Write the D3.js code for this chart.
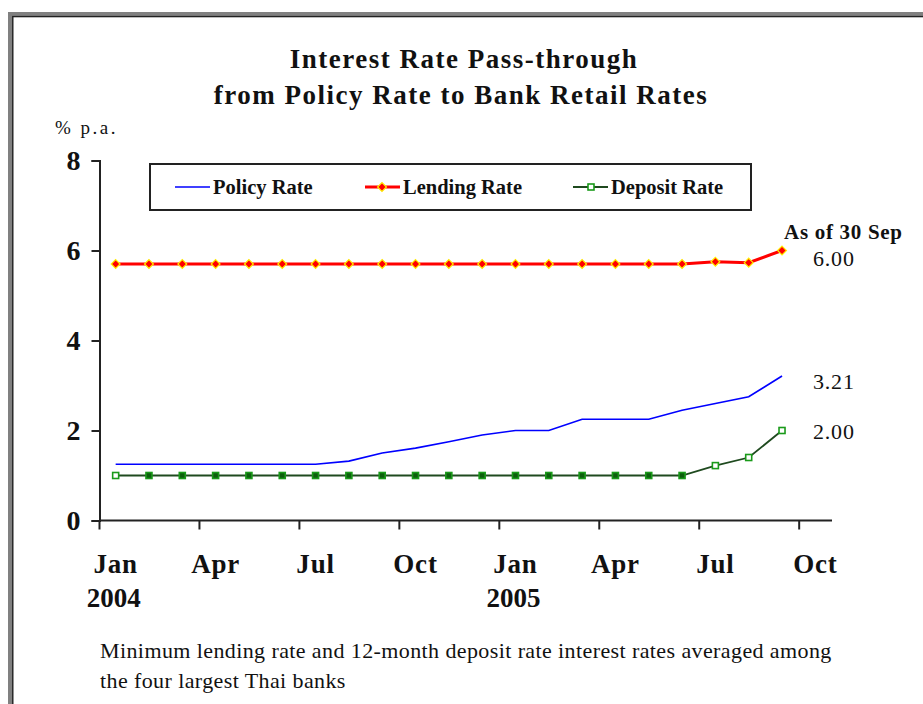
<!DOCTYPE html>
<html lang="en">
<head>
  <meta charset="UTF-8">
  <title>Interest Rate Pass-through</title>
  <style>
    body { margin: 0; background: #fff; }
    svg { display: block; }
    text { font-family: "Liberation Serif", "Times New Roman", serif; fill: #111; }
  </style>
</head>
<body>
  <svg></svg>
  <script src="https://cdn.jsdelivr.net/npm/d3@7"></script>
  <script>
    // monthly categories, Jan 2004 .. Oct 2005 (Oct 2005 has no data yet)
    var categories = ["Jan-04","Feb-04","Mar-04","Apr-04","May-04","Jun-04","Jul-04","Aug-04","Sep-04","Oct-04","Nov-04","Dec-04",
                      "Jan-05","Feb-05","Mar-05","Apr-05","May-05","Jun-05","Jul-05","Aug-05","Sep-05","Oct-05"]
    var policyRate  = [1.25,1.25,1.25,1.25,1.25,1.25,1.25,1.32,1.50,1.61,1.75,1.90,2.00,2.00,2.25,2.25,2.25,2.45,2.60,2.75,3.21]
    var lendingRate = [5.70,5.70,5.70,5.70,5.70,5.70,5.70,5.70,5.70,5.70,5.70,5.70,5.70,5.70,5.70,5.70,5.70,5.70,5.75,5.73,6.00]
    var depositRate = [1.00,1.00,1.00,1.00,1.00,1.00,1.00,1.00,1.00,1.00,1.00,1.00,1.00,1.00,1.00,1.00,1.00,1.00,1.22,1.40,2.00]
    var yTicks = [0,2,4,6,8]
    var quarterLabels = ["Jan","Apr","Jul","Oct","Jan","Apr","Jul","Oct"]
    var yearLabels = ["2004","","","","2005","","",""]
    var seriesNames = ["Policy Rate","Lending Rate","Deposit Rate"]

    var width = 923
    var height = 704

    var svg = d3.select("svg")
      .attr("width", width)
      .attr("height", height)

    // outer frame (cut by the window at right and bottom)
    svg.append("rect")
      .attr("x", 10.5).attr("y", 14.5)
      .attr("width", 2000).attr("height", 2000)
      .attr("fill", "none").attr("stroke", "#808080").attr("stroke-width", 5)
    svg.append("rect")
      .attr("x", 12.8).attr("y", 16.6)
      .attr("width", 2000).attr("height", 2000)
      .attr("fill", "none").attr("stroke", "#222").attr("stroke-width", 1.4)

    var x = d3.scaleBand()
      .domain(categories)
      .range([99, 832])
      .padding(0)
    var y = d3.scaleLinear()
      .domain([0, 8])
      .range([520.5, 160.5])

    var cx = function(i) { return x(categories[i]) + x.bandwidth() / 2 }

    // title
    svg.append("text")
      .attr("x", 464).attr("y", 68)
      .attr("text-anchor", "middle")
      .style("font-size", "27px").style("font-weight", "bold").style("letter-spacing", "1.5px")
      .text("Interest Rate Pass-through")
    svg.append("text")
      .attr("x", 461).attr("y", 104)
      .attr("text-anchor", "middle")
      .style("font-size", "27px").style("font-weight", "bold").style("letter-spacing", "1.5px")
      .text("from Policy Rate to Bank Retail Rates")
    svg.append("text")
      .attr("x", 55).attr("y", 134)
      .style("font-size", "19px").style("letter-spacing", "2.5px")
      .text("% p.a.")

    // y axis
    var yAxis = svg.append("g")
      .attr("transform", "translate(99.5,0)")
      .call(d3.axisLeft(y).tickValues(yTicks).tickSize(8).tickPadding(11).tickFormat(d3.format("d")))
    yAxis.select(".domain").attr("stroke", "#222").attr("stroke-width", 2)
    yAxis.selectAll(".tick line").attr("stroke", "#222").attr("stroke-width", 2)
    yAxis.selectAll(".tick text")
      .style("font-family", "'Liberation Serif', serif")
      .style("font-size", "28px").style("font-weight", "bold").attr("fill", "#111")

    // x axis: ticks at quarter boundaries, labels centred on the month
    var quarterIdx = d3.range(0, 22, 3)
    var xAxis = svg.append("g").attr("transform", "translate(0,520.5)")
    xAxis.append("line")
      .attr("x1", 99).attr("x2", 832)
      .attr("stroke", "#222").attr("stroke-width", 2)
    xAxis.selectAll(".qtick")
      .data(quarterIdx)
      .join("line")
      .attr("class", "qtick")
      .attr("x1", d => x(categories[d]) + 0.5).attr("x2", d => x(categories[d]) + 0.5)
      .attr("y1", 0).attr("y2", 9)
      .attr("stroke", "#222").attr("stroke-width", 2)
    xAxis.selectAll(".qlab")
      .data(quarterIdx)
      .join("text")
      .attr("class", "qlab")
      .attr("x", d => cx(d))
      .attr("y", 52)
      .attr("text-anchor", "middle")
      .style("font-size", "27px").style("font-weight", "bold").style("letter-spacing", "0.8px")
      .text((d, i) => quarterLabels[i])
    xAxis.selectAll(".ylab")
      .data(quarterIdx)
      .join("text")
      .attr("class", "ylab")
      .attr("x", d => cx(d) - 2)
      .attr("y", 86)
      .attr("text-anchor", "middle")
      .style("font-size", "27px").style("font-weight", "bold")
      .text((d, i) => yearLabels[i])

    var line = d3.line()
      .x((d, i) => cx(i))
      .y(d => y(d))

    // policy rate
    svg.append("path")
      .datum(policyRate)
      .attr("d", line)
      .attr("fill", "none").attr("stroke", "#0000ff").attr("stroke-width", 1.7)

    // deposit rate
    svg.append("path")
      .datum(depositRate)
      .attr("d", line)
      .attr("fill", "none").attr("stroke", "#1f4a1f").attr("stroke-width", 1.8)
    svg.selectAll(".dep")
      .data(depositRate)
      .join("rect")
      .attr("class", "dep")
      .attr("x", (d, i) => cx(i) - 3).attr("y", d => y(d) - 3)
      .attr("width", 6).attr("height", 6)
      .attr("fill", (d, i) => (i == 0 || i > 17) ? "#fff" : "#0d5e0d")
      .attr("stroke", "#1a9a1a").attr("stroke-width", 1.6)

    // lending rate
    svg.append("path")
      .datum(lendingRate)
      .attr("d", line)
      .attr("fill", "none").attr("stroke", "#ff0000").attr("stroke-width", 3)
    var diamond = d3.symbol().type(d3.symbolDiamond2).size(50)
    svg.selectAll(".lend")
      .data(lendingRate)
      .join("path")
      .attr("class", "lend")
      .attr("d", diamond)
      .attr("transform", (d, i) => `translate(${cx(i)},${y(d)})`)
      .attr("fill", "#ff0000").attr("stroke", "#ffee00").attr("stroke-width", 1.2)

    // end-point annotations
    var last = lendingRate.length - 1
    var endLabels = [
      {v: lendingRate[last], dy: 7},
      {v: policyRate[last], dy: 5},
      {v: depositRate[last], dy: 0}
    ]
    svg.selectAll(".endlab")
      .data(endLabels)
      .join("text")
      .attr("class", "endlab")
      .attr("x", cx(last) + 31)
      .attr("y", d => y(d.v) + d.dy + 8)
      .style("font-size", "22px").style("letter-spacing", "0.8px")
      .text(d => d.v.toFixed(2))
    svg.append("text")
      .attr("x", cx(last) + 2)
      .attr("y", 239)
      .style("font-size", "21px").style("font-weight", "bold").style("letter-spacing", "0.7px")
      .text("As of 30 Sep")

    // legend
    var legend = svg.append("g")
    legend.append("rect")
      .attr("x", 150).attr("y", 164)
      .attr("width", 601).attr("height", 46)
      .attr("fill", "#fff").attr("stroke", "#222").attr("stroke-width", 2)
    var legX = [175, 365, 573]
    var items = legend.selectAll(".item")
      .data(seriesNames)
      .join("g")
      .attr("class", "item")
      .attr("transform", (d, i) => `translate(${legX[i]},187)`)
    items.append("line")
      .attr("x1", 0).attr("x2", 35)
      .attr("stroke", (d, i) => ["#0000ff", "#ff0000", "#1f4a1f"][i])
      .attr("stroke-width", (d, i) => [1.7, 3, 1.8][i])
    items.filter((d, i) => i == 1).append("path")
      .attr("d", diamond)
      .attr("transform", "translate(17,0)")
      .attr("fill", "#ff0000").attr("stroke", "#ffee00").attr("stroke-width", 1.2)
    items.filter((d, i) => i == 2).append("rect")
      .attr("x", 15).attr("y", -3).attr("width", 6).attr("height", 6)
      .attr("fill", "#fff").attr("stroke", "#1a9a1a").attr("stroke-width", 1.6)
    items.append("text")
      .attr("x", 38).attr("y", 7)
      .style("font-size", "20.5px").style("font-weight", "bold")
      .text(d => d)

    // footnote
    svg.append("text")
      .attr("x", 100).attr("y", 658)
      .style("font-size", "22px").style("letter-spacing", "0.4px")
      .text("Minimum lending rate and 12-month deposit rate interest rates averaged among")
    svg.append("text")
      .attr("x", 100).attr("y", 688)
      .style("font-size", "22px").style("letter-spacing", "0.4px")
      .text("the four largest Thai banks")
  </script>
</body>
</html>
